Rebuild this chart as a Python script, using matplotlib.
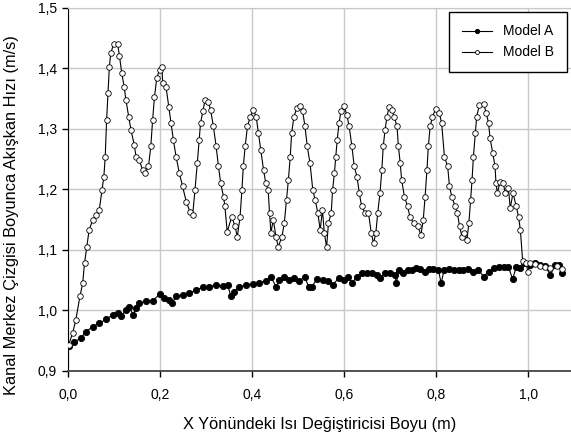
#!/usr/bin/env python3
"""
Centerline velocity along the heat exchanger - Model A vs Model B
"""

import matplotlib
matplotlib.use('Agg')
import matplotlib.pyplot as plt
from matplotlib.ticker import FuncFormatter

# Model A (filled markers)
model_a_x = [0.0015, 0.014, 0.028, 0.039, 0.054, 0.068, 0.083, 0.097, 0.108, 0.115,
             0.126, 0.133, 0.141, 0.148, 0.155, 0.170, 0.184, 0.200, 0.209, 0.220,
             0.226, 0.235, 0.249, 0.264, 0.278, 0.293, 0.307, 0.322, 0.336, 0.347,
             0.354, 0.361, 0.372, 0.387, 0.401, 0.416, 0.430, 0.441, 0.452, 0.459,
             0.470, 0.481, 0.492, 0.503, 0.514, 0.523, 0.530, 0.541, 0.555, 0.566,
             0.575, 0.588, 0.599, 0.609, 0.617, 0.628, 0.638, 0.649, 0.660, 0.671,
             0.678, 0.689, 0.700, 0.711, 0.713, 0.720, 0.729, 0.738, 0.747, 0.757,
             0.765, 0.776, 0.785, 0.794, 0.805, 0.811, 0.817, 0.827, 0.838, 0.849,
             0.859, 0.870, 0.881, 0.892, 0.903, 0.914, 0.925, 0.936, 0.947, 0.957,
             0.966, 0.974, 0.983, 0.991, 1.004, 1.015, 1.026, 1.037, 1.048, 1.059,
             1.066, 1.073]
model_a_y = [0.941, 0.948, 0.954, 0.965, 0.973, 0.979, 0.985, 0.993, 0.996, 0.990,
             1.001, 1.006, 0.993, 1.004, 1.012, 1.015, 1.016, 1.027, 1.020, 1.018,
             1.012, 1.023, 1.026, 1.028, 1.034, 1.038, 1.039, 1.042, 1.040, 1.042,
             1.023, 1.031, 1.039, 1.042, 1.044, 1.046, 1.049, 1.056, 1.039, 1.050,
             1.056, 1.050, 1.053, 1.048, 1.056, 1.039, 1.039, 1.052, 1.050, 1.048,
             1.042, 1.053, 1.050, 1.056, 1.045, 1.056, 1.061, 1.062, 1.061, 1.059,
             1.053, 1.062, 1.061, 1.059, 1.045, 1.066, 1.061, 1.067, 1.066, 1.070,
             1.068, 1.064, 1.068, 1.068, 1.066, 1.045, 1.066, 1.068, 1.066, 1.067,
             1.066, 1.068, 1.064, 1.067, 1.056, 1.064, 1.070, 1.071, 1.071, 1.072,
             1.052, 1.071, 1.070, 1.078, 1.075, 1.078, 1.075, 1.073, 1.059, 1.075,
             1.075, 1.062]

# Model B (open markers)
model_b_x = [0.0015, 0.010, 0.017, 0.026, 0.032, 0.036, 0.041, 0.046, 0.054, 0.062,
             0.068, 0.074, 0.078, 0.081, 0.084, 0.087, 0.090, 0.093, 0.099, 0.108,
             0.112, 0.117, 0.122, 0.126, 0.132, 0.137, 0.144, 0.148, 0.155, 0.162,
             0.168, 0.175, 0.180, 0.184, 0.188, 0.193, 0.199, 0.204, 0.206, 0.213,
             0.219, 0.224, 0.229, 0.235, 0.242, 0.249, 0.257, 0.265, 0.271, 0.276,
             0.281, 0.285, 0.288, 0.293, 0.298, 0.305, 0.310, 0.316, 0.322, 0.327,
             0.332, 0.338, 0.341, 0.346, 0.356, 0.363, 0.368, 0.374, 0.378, 0.381,
             0.385, 0.390, 0.396, 0.403, 0.409, 0.414, 0.419, 0.425, 0.430, 0.435,
             0.438, 0.441, 0.446, 0.452, 0.457, 0.465, 0.470, 0.475, 0.479, 0.483,
             0.486, 0.491, 0.497, 0.504, 0.510, 0.515, 0.520, 0.526, 0.532, 0.537,
             0.543, 0.548, 0.553, 0.557, 0.562, 0.566, 0.572, 0.575, 0.579, 0.582,
             0.585, 0.589, 0.593, 0.600, 0.606, 0.611, 0.617, 0.622, 0.628, 0.633,
             0.638, 0.646, 0.653, 0.659, 0.664, 0.669, 0.673, 0.678, 0.682, 0.685,
             0.689, 0.693, 0.698, 0.704, 0.709, 0.715, 0.718, 0.722, 0.725, 0.731,
             0.738, 0.743, 0.751, 0.760, 0.767, 0.772, 0.776, 0.780, 0.783, 0.787,
             0.792, 0.799, 0.807, 0.812, 0.818, 0.825, 0.829, 0.834, 0.841, 0.846,
             0.851, 0.856, 0.861, 0.867, 0.871, 0.875, 0.878, 0.881, 0.885, 0.888,
             0.894, 0.903, 0.909, 0.914, 0.917, 0.923, 0.928, 0.930, 0.933, 0.939,
             0.946, 0.950, 0.957, 0.961, 0.967, 0.974, 0.979, 0.983, 0.988, 0.996,
             0.999, 1.004, 1.015, 1.026, 1.037, 1.048, 1.062, 1.073]
model_b_y = [0.943, 0.962, 0.984, 1.023, 1.045, 1.078, 1.105, 1.133, 1.150, 1.158,
             1.166, 1.199, 1.221, 1.254, 1.315, 1.359, 1.403, 1.425, 1.440, 1.440,
             1.420, 1.392, 1.370, 1.348, 1.320, 1.298, 1.274, 1.254, 1.249, 1.232,
             1.227, 1.238, 1.271, 1.315, 1.353, 1.384, 1.398, 1.403, 1.376, 1.370,
             1.337, 1.309, 1.282, 1.254, 1.227, 1.205, 1.180, 1.163, 1.158, 1.199,
             1.243, 1.282, 1.309, 1.329, 1.348, 1.345, 1.331, 1.304, 1.271, 1.238,
             1.210, 1.188, 1.172, 1.130, 1.155, 1.139, 1.122, 1.155, 1.199, 1.238,
             1.271, 1.304, 1.320, 1.331, 1.320, 1.293, 1.265, 1.232, 1.210, 1.199,
             1.161, 1.128, 1.150, 1.122, 1.105, 1.122, 1.144, 1.183, 1.216, 1.254,
             1.293, 1.320, 1.334, 1.338, 1.329, 1.304, 1.271, 1.243, 1.199, 1.183,
             1.161, 1.133, 1.166, 1.128, 1.105, 1.144, 1.161, 1.199, 1.227, 1.254,
             1.282, 1.309, 1.329, 1.338, 1.323, 1.304, 1.271, 1.238, 1.221, 1.194,
             1.172, 1.161, 1.161, 1.128, 1.111, 1.128, 1.161, 1.194, 1.232, 1.271,
             1.298, 1.320, 1.337, 1.331, 1.320, 1.304, 1.271, 1.243, 1.216, 1.188,
             1.172, 1.155, 1.144, 1.139, 1.125, 1.150, 1.188, 1.232, 1.271, 1.304,
             1.320, 1.333, 1.326, 1.309, 1.254, 1.238, 1.205, 1.188, 1.172, 1.161,
             1.139, 1.122, 1.128, 1.117, 1.144, 1.183, 1.216, 1.254, 1.293, 1.320,
             1.340, 1.342, 1.326, 1.309, 1.285, 1.260, 1.238, 1.210, 1.194, 1.213,
             1.210, 1.194, 1.202, 1.169, 1.194, 1.172, 1.155, 1.133, 1.081, 1.078,
             1.064, 1.078, 1.076, 1.074, 1.072, 1.070, 1.074, 1.068]

x_ticks = [0.0, 0.2, 0.4, 0.6, 0.8, 1.0]
y_ticks = [0.9, 1.0, 1.1, 1.2, 1.3, 1.4, 1.5]

plt.rcParams['font.family'] = ['Liberation Sans', 'DejaVu Sans']

fig = plt.figure(figsize=(5.71, 4.41), dpi=100)
ax = fig.add_axes([0.119, 0.159, 0.881, 0.823])

ax.plot(model_a_x, model_a_y, color='black', linewidth=0.8, marker='o',
        markersize=4.5, markerfacecolor='black', markeredgecolor='black',
        markeredgewidth=0.6, label='Model A', zorder=3)
ax.plot(model_b_x, model_b_y, color='black', linewidth=0.8, marker='o',
        markersize=4, markerfacecolor='white', markeredgecolor='black',
        markeredgewidth=0.6, label='Model B', zorder=4)

ax.set_xlim(0, 1.093)
ax.set_ylim(0.9, 1.5)
ax.set_xticks(x_ticks)
ax.set_yticks(y_ticks)
comma = FuncFormatter(lambda v, p: f'{v:.1f}'.replace('.', ','))
ax.xaxis.set_major_formatter(comma)
ax.yaxis.set_major_formatter(comma)
ax.tick_params(direction='out', length=4, width=1, labelsize=10, colors='black')
ax.tick_params(axis='x', pad=8)
ax.tick_params(axis='y', pad=4)

ax.grid(True, color='#c8c8c8', linewidth=1)
ax.set_axisbelow(True)
ax.spines['right'].set_visible(False)
ax.spines['top'].set_color('#c8c8c8')
ax.spines['left'].set_color('black')
ax.spines['bottom'].set_color('#444444')
ax.spines['bottom'].set_linewidth(1.3)

ax.set_xlabel('X Yönündeki Isı Değiştiricisi Boyu (m)', fontsize=11.8)
ax.set_ylabel('Kanal Merkez Çizgisi Boyunca Akışkan Hızı (m/s)', fontsize=11.8)
ax.xaxis.set_label_coords(0.5, -0.128)
ax.yaxis.set_label_coords(-0.098, 0.43)

leg = ax.legend(loc='upper right', bbox_to_anchor=(0.992, 0.989), fontsize=10,
                fancybox=False, framealpha=1, edgecolor='black',
                handlelength=2.2, handletextpad=0.8, borderpad=0.9,
                labelspacing=0.5, markerscale=0.7, borderaxespad=0)
leg.get_frame().set_linewidth(1)

fig.savefig('out.png', dpi=100)
